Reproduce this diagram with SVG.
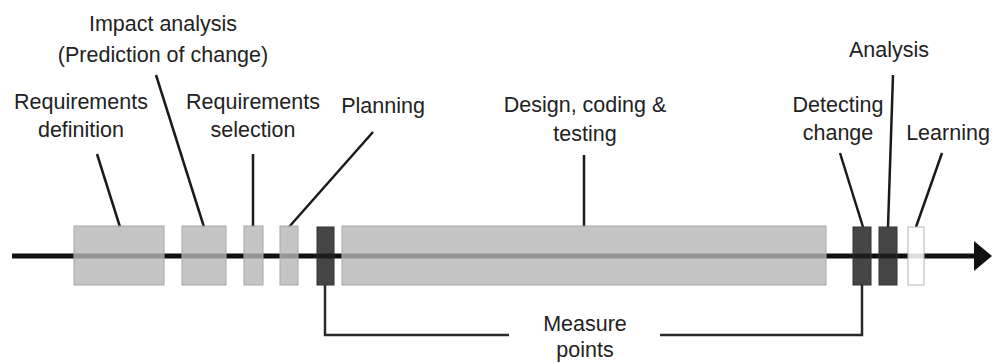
<svg xmlns="http://www.w3.org/2000/svg" width="992" height="364" viewBox="0 0 992 364">
  <defs>
    <style>
      text { font-family: "Liberation Sans", Arial, sans-serif; font-size: 21.5px; fill: #222; text-anchor: middle; }
      .lead { stroke: #1a1a1a; stroke-width: 2.5; fill: none; }
      .bracket { stroke: #2a2a2a; stroke-width: 2.5; fill: none; }
      .light { fill: #b6b6b6; fill-opacity: 0.8; stroke: #a6a6a6; stroke-width: 1; }
      .dark { fill: #212121; fill-opacity: 0.83; stroke: #333; stroke-width: 1; }
      .white { fill: #ffffff; fill-opacity: 0.86; stroke: #b4b4b4; stroke-width: 1; }
    </style>
    <marker id="arrow" markerUnits="userSpaceOnUse" markerWidth="20" markerHeight="32" refX="0" refY="15" orient="auto">
      <path d="M0,0 L18,15 L0,30 Z" fill="#111"/>
    </marker>
  </defs>
  <rect width="992" height="364" fill="#fff"/>

  <g id="connectors">
    <line id="axis" x1="12" y1="256" x2="974" y2="256" stroke="#111" stroke-width="5" marker-end="url(#arrow)"/>
    <line class="lead" x1="97" y1="154" x2="120" y2="227"/>
    <line class="lead" x1="156" y1="75" x2="204" y2="227"/>
    <line class="lead" x1="253" y1="154" x2="253" y2="227"/>
    <line class="lead" x1="373" y1="132" x2="289" y2="227"/>
    <line class="lead" x1="584" y1="155" x2="584" y2="227"/>
    <line class="lead" x1="840" y1="153" x2="863" y2="227"/>
    <line class="lead" x1="893" y1="75" x2="888" y2="227"/>
    <line class="lead" x1="942" y1="153" x2="916" y2="227"/>
    <path class="bracket" d="M325,285 V335 H509"/>
    <path class="bracket" d="M660,335 H862 V285"/>
  </g>

  <g id="requirements-definition">
    <rect class="light" x="74" y="226" width="90" height="59"/>
    <text x="81" y="109">Requirements</text>
    <text x="81" y="137">definition</text>
  </g>
  <g id="impact-analysis">
    <rect class="light" x="182" y="226" width="44" height="59"/>
    <text x="163" y="31">Impact analysis</text>
    <text x="163" y="62">(Prediction of change)</text>
  </g>
  <g id="requirements-selection">
    <rect class="light" x="244" y="226" width="19" height="59"/>
    <text x="253" y="109">Requirements</text>
    <text x="253" y="137">selection</text>
  </g>
  <g id="planning">
    <rect class="light" x="280" y="226" width="18" height="59"/>
    <text x="383" y="113">Planning</text>
  </g>
  <g id="measure-point-1">
    <rect class="dark" x="317" y="227" width="17" height="58"/>
  </g>
  <g id="design-coding-testing">
    <rect class="light" x="342" y="226" width="484" height="59"/>
    <text x="585" y="112">Design, coding &amp;</text>
    <text x="585" y="141">testing</text>
  </g>
  <g id="detecting-change">
    <rect class="dark" x="853" y="227" width="18" height="58"/>
    <text x="838" y="112">Detecting</text>
    <text x="838" y="140">change</text>
  </g>
  <g id="analysis">
    <rect class="dark" x="879" y="227" width="18" height="58"/>
    <text x="889" y="57">Analysis</text>
  </g>
  <g id="learning">
    <rect class="white" x="908" y="227" width="16" height="58"/>
    <text x="948" y="140">Learning</text>
  </g>
  <g id="measure-points">
    <text x="585" y="331">Measure</text>
    <text x="585" y="357">points</text>
  </g>
</svg>
